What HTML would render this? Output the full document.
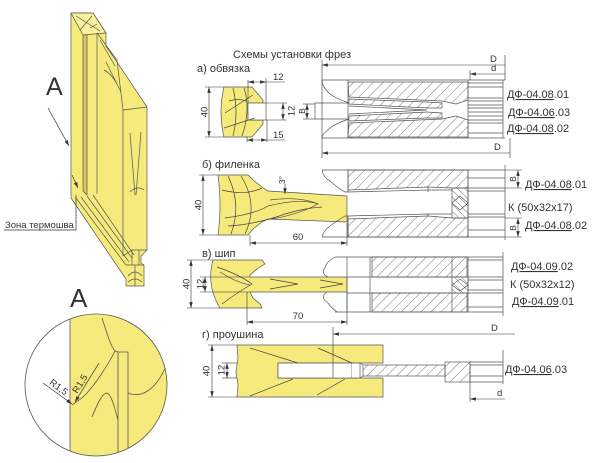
<!DOCTYPE html>
<html><head><meta charset="utf-8"><style>
html,body{margin:0;padding:0;background:#fff;width:600px;height:463px;overflow:hidden}
svg{display:block}
text{font-family:"Liberation Sans",Arial,sans-serif;fill:#333;stroke:none}
</style></head><body>
<svg width="600" height="463" viewBox="0 0 600 463" xmlns="http://www.w3.org/2000/svg">
<defs>
<pattern id="h" width="7" height="7" patternUnits="userSpaceOnUse" patternTransform="rotate(45)"><line x1="0" y1="0" x2="0" y2="7" stroke="#555" stroke-width="0.8"/></pattern>
<pattern id="hx" width="5" height="5" patternUnits="userSpaceOnUse" patternTransform="rotate(-45)"><line x1="0" y1="0" x2="0" y2="5" stroke="#555" stroke-width="0.8"/></pattern>
<marker id="ar" viewBox="0 0 10 6" refX="10" refY="3" markerUnits="userSpaceOnUse" markerWidth="6" markerHeight="3.5" orient="auto-start-reverse"><path d="M0,0L10,3L0,6z" fill="#333"/></marker>
<clipPath id="cc"><circle cx="96" cy="385" r="71"/></clipPath>
</defs>

<!-- 3D frame -->
<g stroke="#555" stroke-width="0.7" fill="none" stroke-linejoin="round">
<path d="M71,13 L93,13 L106,33 L106,46 L117,62 L147,107 L147,250 L141,256 L141,263 L144,265 L144,286 L126,286 L126,279 L71,198 Z" fill="#f6ea7c"/>
<path d="M71,13 L93,13 L106,33 L83,35 Z" fill="#f9f09a"/>
<path d="M83,35 L87,35 L87,195 L83,191 Z" fill="#d9c65c"/>
<path d="M97,33 L97,194"/>
<path d="M97,33 L117,60 L123,110"/>
<path d="M76,16 L100,31 M80,30 L92,16 M90,28 L97,24"/>
<path d="M100,40 L115,66 M104,70 Q112,74 118,86 M106,62 L121,92"/>
<path d="M123,110 L147,107 M123,110 L123,256 L132,250 L139,250 L147,250"/>
<path d="M130,133 L135,195 M141,132 L136,195 M130,192 Q137,185 144,190"/>
<path d="M132,250 L132,265 M139,250 L139,265"/>
<path d="M126,265 L144,265 M135,265 L135,286 M128,276 Q135,268 142,276 M128,282 Q135,276 142,282"/>
<path d="M76,198 L126,265 M81,197 L129,262 M87,196 L132,258 M93,195 L134,255"/>
</g>
<text x="46" y="95" font-size="25">A</text>
<line x1="48" y1="108" x2="69" y2="146" stroke="#333" stroke-width="0.7" marker-end="url(#ar)"/>
<text x="5" y="228" font-size="9.5">Зона термошва</text>
<path d="M4,230 L76,230 L76,195" stroke="#333" stroke-width="0.7" fill="none"/>
<line x1="72" y1="175" x2="78" y2="188" stroke="#333" stroke-width="0.7" marker-end="url(#ar)"/>

<!-- detail A -->
<text x="70" y="307" font-size="26">A</text>
<circle cx="96" cy="385" r="71" fill="#fff"/>
<g clip-path="url(#cc)" stroke="#555" stroke-width="0.8" fill="none">
<rect x="70" y="310" width="100" height="150" fill="#f6ea7c" stroke="none"/>
<line x1="70" y1="310" x2="70" y2="460"/>
<path d="M118,460 L118,352 L128,352 L128,460"/>
<path d="M102,318 C106,330 110,345 115,351 L118,352 M115,351 C108,365 95,385 85,395 C80,400 76,402 72,405"/>
<path d="M128,393 C140,398 155,392 166,366"/>
<path d="M92,417 C97,405 102,393 107,393 C112,395 115,410 118,420"/>
</g>
<circle cx="96" cy="385" r="71" fill="none" stroke="#555" stroke-width="0.8"/>
<line x1="43" y1="383" x2="72" y2="404" stroke="#333" stroke-width="0.7" marker-end="url(#ar)"/>
<text transform="translate(46,384) rotate(37)" x="2" y="-2" font-size="9.5">R1,5</text>
<line x1="99" y1="363" x2="75" y2="402" stroke="#333" stroke-width="0.7" marker-end="url(#ar)"/>
<text transform="translate(79,395) rotate(-58)" x="0" y="-2" font-size="9.5">R1,5</text>

<!-- Titles -->
<text x="233" y="58" font-size="11">Схемы установки фрез</text>
<text x="197" y="72" font-size="11">а) обвязка</text>
<text x="202" y="168" font-size="11">б) филенка</text>
<text x="202" y="257" font-size="11">в) шип</text>
<text x="202" y="338" font-size="11">г) проушина</text>

<!-- ===== a) ===== -->
<g stroke="#555" stroke-width="0.7" fill="none">
<path d="M224,87 L252,87 L263,100 L263,103 L248,103 L248,120 L263,120 L263,124 L252,137 L224,137 Q218,112 224,87 Z" fill="#f6ea7c"/>
<rect x="248" y="103" width="18" height="17" fill="#fff"/>
<path d="M233,88 Q239,112 233,136 M244,88 Q251,110 242,136 M225,113 L253,95 M224,128 L255,118 M229,101 Q238,98 246,101" stroke="#444"/>
</g>
<g stroke="#333" stroke-width="0.6" fill="none">
<line x1="205" y1="87" x2="224" y2="87"/><line x1="205" y1="137" x2="224" y2="137"/>
<line x1="209" y1="87" x2="209" y2="137" marker-start="url(#ar)" marker-end="url(#ar)"/>
<line x1="248" y1="80" x2="248" y2="103"/><line x1="266" y1="78" x2="266" y2="103"/>
<line x1="248" y1="82" x2="266" y2="82" marker-start="url(#ar)" marker-end="url(#ar)"/><line x1="266" y1="82" x2="285" y2="82"/>
<line x1="266" y1="103" x2="287" y2="103"/><line x1="266" y1="120" x2="287" y2="120"/>
<line x1="283" y1="103" x2="283" y2="120" marker-start="url(#ar)" marker-end="url(#ar)"/>
<line x1="247" y1="137" x2="247" y2="142"/><line x1="267" y1="120" x2="267" y2="142"/>
<line x1="247" y1="140" x2="267" y2="140" marker-start="url(#ar)" marker-end="url(#ar)"/><line x1="267" y1="140" x2="285" y2="140"/>
</g>
<text transform="translate(204,112) rotate(-90)" x="0" y="3.4" font-size="9.5" text-anchor="middle">40</text>
<text x="273" y="80" font-size="9.5">12</text>
<text transform="translate(291,111) rotate(-90)" x="0" y="3.4" font-size="9.5" text-anchor="middle">12</text>
<text x="273" y="138" font-size="9.5">15</text>

<!-- cutter a -->
<g stroke="#555" stroke-width="0.7" fill="none">
<path d="M348,82 L468,82 L468,100 L456,104 L442,101 L349,97 Z" fill="url(#h)"/>
<path d="M349,123 L442,119 L456,116 L468,120 L468,137 L348,137 Z" fill="url(#h)"/>
<path d="M349,99 L427,102 L442,103 L442,108 L427,108 L349,104 Z" fill="url(#h)"/>
<path d="M349,116 L427,112 L442,113 L442,118 L427,118 L349,121 Z" fill="url(#h)"/>
<path d="M349,106 L427,110 L349,114"/>
<path d="M322,80 L505,80 M322,138 L505,138"/>
<path d="M322,80 C322,86 326,90 330,94 C334,97 340,100 349,103 L315,103 L315,119 L349,119 C340,122 334,125 330,128 C326,132 322,134 322,138"/>
<path d="M348,80 L348,138 M468,80 L468,138 M503,80 L503,138"/>
<path d="M468,83 L503,83 M468,87 L503,87 M468,98 L503,98 M468,101 L503,101 M468,105 L503,105 M468,108 L503,108 M468,112 L503,112 M468,116 L503,116 M468,120 L503,120 M468,123 L503,123 M468,133 L503,133"/>
</g>
<g stroke="#333" stroke-width="0.6" fill="none">
<line x1="322" y1="60" x2="322" y2="158"/>
<line x1="505" y1="55" x2="505" y2="80"/>
<line x1="322" y1="65" x2="505" y2="65" marker-start="url(#ar)"/>
<line x1="470" y1="70" x2="470" y2="80"/>
<line x1="470" y1="74" x2="505" y2="74" marker-start="url(#ar)"/>
<line x1="510" y1="138" x2="510" y2="158"/>
<line x1="322" y1="153" x2="510" y2="153" marker-start="url(#ar)"/>
<line x1="303" y1="104" x2="315" y2="104"/><line x1="303" y1="119" x2="315" y2="119"/>
<line x1="307" y1="104" x2="307" y2="119" marker-start="url(#ar)" marker-end="url(#ar)"/>
</g>
<text x="490" y="62" font-size="9.5">D</text>
<text x="491" y="71" font-size="9.5">d</text>
<text x="494" y="150" font-size="9.5">D</text>
<text transform="translate(302,111) rotate(-90)" x="0" y="3" font-size="8.5" text-anchor="middle">В</text>
<text x="507" y="98" font-size="11"><tspan text-decoration="underline">ДФ-04.08</tspan>.01</text>
<text x="508" y="116" font-size="11"><tspan text-decoration="underline">ДФ-04.06</tspan>.03</text>
<text x="507" y="132" font-size="11"><tspan text-decoration="underline">ДФ-04.08</tspan>.02</text>

<!-- ===== б) ===== -->
<g stroke="#555" stroke-width="0.7" fill="none">
<path d="M218,175 L248,175 L253,180 L262,187 L268,191 L347,196 L347,222 L268,219 L262,222 L253,229 L248,235 L218,235 Q222,205 218,175 Z" fill="#f6ea7c"/>
<path d="M228,176 Q242,205 231,234 M241,176 Q259,205 245,234 M222,190 Q245,196 262,188 M225,218 Q255,214 268,206 Q300,198 318,204 M228,226 Q258,224 285,214 Q305,208 322,207 M270,200 Q300,196 318,204 Q300,214 272,219" stroke="#444"/>
</g>
<g stroke="#333" stroke-width="0.6" fill="none">
<line x1="199" y1="175" x2="218" y2="175"/><line x1="199" y1="235" x2="218" y2="235"/>
<line x1="203" y1="175" x2="203" y2="235" marker-start="url(#ar)" marker-end="url(#ar)"/>
<line x1="285" y1="184" x2="285" y2="194" marker-end="url(#ar)"/>
<line x1="250" y1="235" x2="250" y2="246"/><line x1="347" y1="223" x2="347" y2="246"/>
<line x1="250" y1="243" x2="347" y2="243" marker-start="url(#ar)" marker-end="url(#ar)"/>
</g>
<text transform="translate(198,205) rotate(-90)" x="0" y="3.4" font-size="9.5" text-anchor="middle">40</text>
<text transform="translate(282,180) rotate(-90)" x="0" y="3" font-size="8.5" text-anchor="middle">3°</text>
<text x="298" y="240" font-size="9.5" text-anchor="middle">60</text>

<!-- cutter б -->
<g stroke="#555" stroke-width="0.7" fill="none">
<path d="M348,170 L468,170 L468,188 L452,188 L428,187 L348,190 Z" fill="url(#h)"/>
<path d="M348,219 L428,216 L452,218 L468,218 L468,237 L348,237 Z" fill="url(#h)"/>
<rect x="452" y="188" width="16" height="30" fill="url(#hx)"/>
<path d="M452,203 L460,196 L468,203 L460,210 Z"/>
<path d="M348,192 L428,190 L452,190 M348,216 L428,214 L452,214 M428,187 L428,192 M428,214 L428,216"/>
<path d="M322,170 L505,170 M322,237 L505,237"/>
<path d="M322,170 C323,176 326,179 330,181 C334,184 337,188 345,192 L348,192 M348,216 L345,216 C338,220 334,223 330,226 C326,229 323,232 322,237"/>
<path d="M348,170 L348,192 M348,216 L348,237 M468,170 L468,237 M505,165 L505,240"/>
<path d="M468,178 L505,178 M468,188 L505,188 M468,191 L505,191 M468,214 L505,214 M468,217 L505,217 M468,230 L505,230"/>
</g>
<g stroke="#333" stroke-width="0.6" fill="none">
<line x1="505" y1="170" x2="522" y2="170"/><line x1="505" y1="188" x2="522" y2="188"/>
<line x1="505" y1="218" x2="522" y2="218"/><line x1="505" y1="237" x2="522" y2="237"/>
<line x1="518" y1="170" x2="518" y2="188" marker-start="url(#ar)" marker-end="url(#ar)"/>
<line x1="518" y1="218" x2="518" y2="237" marker-start="url(#ar)" marker-end="url(#ar)"/>
</g>
<text transform="translate(513,179) rotate(-90)" x="0" y="3" font-size="8.5" text-anchor="middle">В</text>
<text transform="translate(513,228) rotate(-90)" x="0" y="3" font-size="8.5" text-anchor="middle">В</text>
<text x="525" y="188" font-size="11"><tspan text-decoration="underline">ДФ-04.08</tspan>.01</text>
<text x="508" y="211" font-size="11">К (50х32х17)</text>
<text x="525" y="229" font-size="11"><tspan text-decoration="underline">ДФ-04.08</tspan>.02</text>

<!-- ===== в) ===== -->
<g stroke="#555" stroke-width="0.7" fill="none">
<path d="M213,260 L262,260 L265,264 L258,268 L250,275 L250,277 L347,277 L347,292 L250,292 L253,298 L260,304 L262,308 L220,308 Q206,285 213,260 Z" fill="#f6ea7c"/>
<path d="M217,267 Q240,275 252,284 Q238,292 222,304 M220,272 Q235,282 250,285" stroke="#444"/>
<path d="M270,279 L298,284 L270,289 M320,280 L343,284 L320,288" stroke="#444"/>
</g>
<g stroke="#333" stroke-width="0.6" fill="none">
<line x1="187" y1="260" x2="213" y2="260"/><line x1="187" y1="308" x2="220" y2="308"/>
<line x1="191" y1="260" x2="191" y2="308" marker-start="url(#ar)" marker-end="url(#ar)"/>
<line x1="200" y1="277" x2="250" y2="277"/><line x1="200" y1="292" x2="250" y2="292"/>
<line x1="205" y1="277" x2="205" y2="292" marker-start="url(#ar)" marker-end="url(#ar)"/>
<line x1="247" y1="292" x2="247" y2="325"/><line x1="347" y1="292" x2="347" y2="325"/>
<line x1="247" y1="322" x2="347" y2="322" marker-start="url(#ar)" marker-end="url(#ar)"/>
</g>
<text transform="translate(186,284) rotate(-90)" x="0" y="3.4" font-size="9.5" text-anchor="middle">40</text>
<text transform="translate(200,284) rotate(-90)" x="0" y="3.4" font-size="9.5" text-anchor="middle">12</text>
<text x="298" y="319" font-size="9.5" text-anchor="middle">70</text>

<!-- cutter в -->
<g stroke="#555" stroke-width="0.7" fill="none">
<rect x="372" y="257" width="95" height="20" fill="url(#h)"/>
<rect x="372" y="293" width="95" height="19" fill="url(#h)"/>
<rect x="452" y="277" width="16" height="16" fill="url(#hx)"/>
<path d="M452,285 L460,279 L468,285 L460,291 Z"/>
<path d="M452,257 L452,277 M452,293 L452,312"/>
<path d="M335,257 L503,257 M335,312 L503,312"/>
<path d="M347,277 L452,277 M347,293 L452,293 M347,257 L347,312 M370,257 L370,312 M468,257 L468,312 M503,252 L503,316"/>
<path d="M335,257 C330,260 326,263 325,268 C322,271 323,275 328,277 M327,292 C322,295 322,299 328,303 C330,306 333,309 337,312"/>
<path d="M468,260 L503,260 M468,277 L503,277 M468,280 L503,280 M468,290 L503,290 M468,293 L503,293 M468,307 L503,307"/>
</g>
<text x="511" y="270" font-size="11"><tspan text-decoration="underline">ДФ-04.09</tspan>.02</text>
<text x="510" y="288" font-size="11">К (50х32х12)</text>
<text x="512" y="305" font-size="11"><tspan text-decoration="underline">ДФ-04.09</tspan>.01</text>

<!-- ===== г) ===== -->
<g stroke="#555" stroke-width="0.7" fill="none">
<path d="M237,345 L383,345 L383,363 L360,363 L352,363 L278,363 L278,378 L352,378 L383,378 L383,397 L237,397 L238,385 L236,372 L238,358 Z" fill="#f6ea7c"/>
<path d="M278,363 L352,363 L352,378 L278,378 Z" fill="#fff"/>
<path d="M352,363 L360,363 L360,378 L352,378" fill="#fff"/>
<path d="M250,348 L298,363 M318,348 L352,363 M250,396 L293,379 M317,395 L345,379" stroke="#444"/>
<rect x="363" y="365" width="82" height="11" fill="url(#h)"/>
<rect x="445" y="362" width="25" height="20" fill="url(#h)"/>
<path d="M360,363 L363,365 M360,378 L363,376"/>
<path d="M470,362 L503,362 M470,365 L503,365 M470,376 L503,376 M470,382 L503,382 M470,362 L470,382"/>
</g>
<g stroke="#333" stroke-width="0.6" fill="none">
<line x1="333" y1="327" x2="333" y2="378"/>
<line x1="333" y1="334" x2="515" y2="334" marker-start="url(#ar)"/>
<line x1="503" y1="350" x2="503" y2="384"/>
<line x1="470" y1="382" x2="470" y2="402"/>
<line x1="470" y1="399" x2="505" y2="399" marker-start="url(#ar)"/>
<line x1="208" y1="345" x2="237" y2="345"/><line x1="208" y1="397" x2="237" y2="397"/>
<line x1="212" y1="345" x2="212" y2="397" marker-start="url(#ar)" marker-end="url(#ar)"/>
<line x1="222" y1="363" x2="237" y2="363"/><line x1="222" y1="378" x2="237" y2="378"/>
<line x1="227" y1="363" x2="227" y2="378" marker-start="url(#ar)" marker-end="url(#ar)"/>
</g>
<text x="491" y="331" font-size="9.5">D</text>
<text x="497" y="396" font-size="9.5">d</text>
<text transform="translate(206,371) rotate(-90)" x="0" y="3.4" font-size="9.5" text-anchor="middle">40</text>
<text transform="translate(221,370) rotate(-90)" x="0" y="3.4" font-size="9.5" text-anchor="middle">12</text>
<text x="505" y="373" font-size="11"><tspan text-decoration="underline">ДФ-04.06</tspan>.03</text>
</svg>
</body></html>
